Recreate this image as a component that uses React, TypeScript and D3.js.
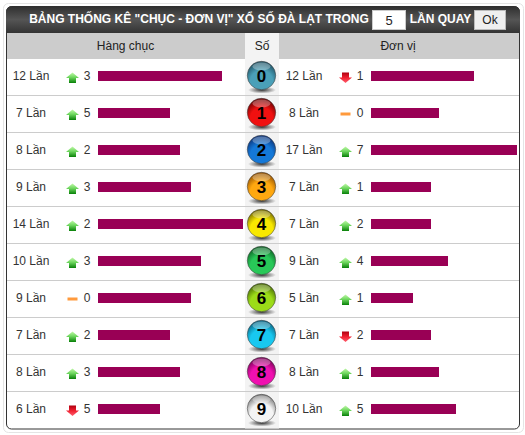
import React from "react";
import * as d3 from "d3";

const digits = [0, 1, 2, 3, 4, 5, 6, 7, 8, 9];
const tensCounts = [12, 7, 8, 9, 14, 10, 9, 7, 8, 6];
const tensTrend = ["up", "up", "up", "up", "up", "up", "flat", "up", "up", "down"];
const tensDelta = [3, 5, 2, 3, 2, 3, 0, 2, 3, 5];
const unitCounts = [12, 8, 17, 7, 7, 9, 5, 7, 8, 10];
const unitTrend = ["down", "flat", "up", "up", "up", "up", "up", "down", "up", "up"];
const unitDelta = [1, 0, 7, 1, 2, 4, 1, 2, 1, 5];
const ballColors = ["#4aa0b8", "#f01010", "#1478d8", "#ffa810", "#f8e800", "#28c858", "#9cdc18", "#18c8f0", "#f010b0", "#f4f4f4"];
const ballDark = ["#1c4a5c", "#600000", "#0a2c70", "#8a4a00", "#6a6000", "#0a5a20", "#406000", "#085a78", "#700050", "#707070"];

const FONT = "Arial, 'Liberation Sans', sans-serif";
const rowY = d3.scaleBand<number>().domain(digits).range([59, 429]);
const tensX = d3.scaleLinear().domain([0, 14]).range([98, 243]);
const unitX = d3.scaleLinear().domain([0, 17]).range([371, 517]);

function Arrow({ x, y, kind }: { x: number; y: number; kind: string }) {
  if (kind === "flat") return <rect x={x - 5} y={y - 2} width={10} height={3} fill="#ff9a3c" />;
  const d = kind === "up"
    ? `M${x} ${y - 5}L${x + 6.5} ${y + 0.5}L${x + 3.5} ${y + 0.5}L${x + 3.5} ${y + 5.5}L${x - 3.5} ${y + 5.5}L${x - 3.5} ${y + 0.5}L${x - 6.5} ${y + 0.5}Z`
    : `M${x} ${y + 5.5}L${x + 6.5} ${y}L${x + 3.5} ${y}L${x + 3.5} ${y - 5}L${x - 3.5} ${y - 5}L${x - 3.5} ${y}L${x - 6.5} ${y}Z`;
  return <path d={d} fill={kind === "up" ? "url(#upG)" : "url(#downG)"} />;
}

function Side({ counts, trend, delta, scale, cx, ax, nx }: any) {
  return (
    <g>
      {digits.map((d) => {
        const y = rowY(d)! + rowY.bandwidth() / 2;
        return (
          <g key={d}>
            <text x={cx} y={y + 2.5} textAnchor="middle" fontSize={12} fill="#333">{counts[d]} Lần</text>
            <Arrow x={ax} y={y} kind={trend[d]} />
            <text x={nx} y={y + 2.5} textAnchor="middle" fontSize={12} fill="#333">{delta[d]}</text>
            <rect x={scale(0)} y={y - 6.5} width={Math.floor(scale(counts[d]) - scale(0))} height={10} fill="#990055" />
          </g>
        );
      })}
    </g>
  );
}

export default function App() {
  return (
    <svg width={525} height={435} fontFamily={FONT} style={{ position: "absolute", left: 0, top: 0 }}>
      <defs>
        <linearGradient id="head" x1="0" y1="0" x2="0" y2="1">
          <stop offset="0" stopColor="#2e2e2e" />
          <stop offset="0.5" stopColor="#555" />
          <stop offset="1" stopColor="#333" />
        </linearGradient>
        <linearGradient id="upG" x1="0" y1="0" x2="0" y2="1">
          <stop offset="0" stopColor="#c0f8a8" />
          <stop offset="0.45" stopColor="#70d860" />
          <stop offset="1" stopColor="#088008" />
        </linearGradient>
        <linearGradient id="downG" x1="0" y1="0" x2="0" y2="1">
          <stop offset="0" stopColor="#b00010" />
          <stop offset="0.5" stopColor="#f02030" />
          <stop offset="1" stopColor="#ff6070" />
        </linearGradient>
        <radialGradient id="shadowG">
          <stop offset="0" stopColor="#111" stopOpacity="0.85" />
          <stop offset="1" stopColor="#111" stopOpacity="0" />
        </radialGradient>
        {digits.map((d) => (
          <radialGradient key={d} id={`ball${d}`} cx="0.5" cy="0.72" r="0.72">
            <stop offset="0" stopColor={ballColors[d]} />
            <stop offset="0.55" stopColor={ballColors[d]} />
            <stop offset="1" stopColor={ballDark[d]} />
          </radialGradient>
        ))}
      </defs>

      <rect x={3.5} y={3.5} width={520} height={429} rx={5} fill="#fff" stroke="#e4e4e4" />
      <rect x={6.5} y={6.5} width={513} height={422.5} rx={5} fill="#fff" stroke="#333" />
      <path d="M6 33V12a6 6 0 0 1 6-6H514a6 6 0 0 1 6 6V33Z" fill="url(#head)" />
      <rect x={7} y={33} width={238} height={26} fill="#ccc" />
      <rect x={279} y={33} width={240} height={26} fill="#ccc" />
      <rect x={245} y={33} width={34} height={395.5} fill="#f3f3f3" />

      <text x={199} y={23} textAnchor="middle" fontSize={12} fontWeight="bold" fill="#fff">BẢNG THỐNG KÊ "CHỤC - ĐƠN VỊ" XỔ SỐ ĐÀ LẠT TRONG</text>
      <rect x={372.5} y={10.5} width={33} height={19} fill="#fff" stroke="#ccc" />
      <text x={389} y={25} textAnchor="middle" fontSize={13} fill="#222">5</text>
      <text x={440.5} y={23} textAnchor="middle" fontSize={12} fontWeight="bold" fill="#fff">LẦN QUAY</text>
      <rect x={474.5} y={10.5} width={31} height={19} fill="#efefef" stroke="#bbb" />
      <text x={490} y={24} textAnchor="middle" fontSize={12} fill="#222">Ok</text>

      <text x={125.5} y={50} textAnchor="middle" fontSize={12} fill="#222">Hàng chục</text>
      <text x={262} y={50} textAnchor="middle" fontSize={12} fill="#222">Số</text>
      <text x={398} y={50} textAnchor="middle" fontSize={12} fill="#222">Đơn vị</text>

      {digits.slice(1).map((d) => (
        <line key={d} x1={7} x2={519} y1={rowY(d)! - 0.5} y2={rowY(d)! - 0.5} stroke="#ccc" />
      ))}

      <Side counts={tensCounts} trend={tensTrend} delta={tensDelta} scale={tensX} cx={31} ax={72.5} nx={87} />
      <Side counts={unitCounts} trend={unitTrend} delta={unitDelta} scale={unitX} cx={304} ax={345.5} nx={360} />

      {digits.map((d) => {
        const y = rowY(d)! + rowY.bandwidth() / 2;
        return (
          <g key={d}>
            <ellipse cx={262} cy={y + 12.5} rx={14} ry={3.5} fill="url(#shadowG)" />
            <circle cx={261.5} cy={y - 2} r={14.2} fill={`url(#ball${d})`} stroke="#444" strokeOpacity={0.55} />
            <ellipse cx={261.5} cy={y - 11} rx={9} ry={4} fill="#fff" fillOpacity={0.3} />
            <text x={261.5} y={y + 4} textAnchor="middle" fontSize={17} fontWeight="bold" fill="#000">{d}</text>
          </g>
        );
      })}
    </svg>
  );
}
